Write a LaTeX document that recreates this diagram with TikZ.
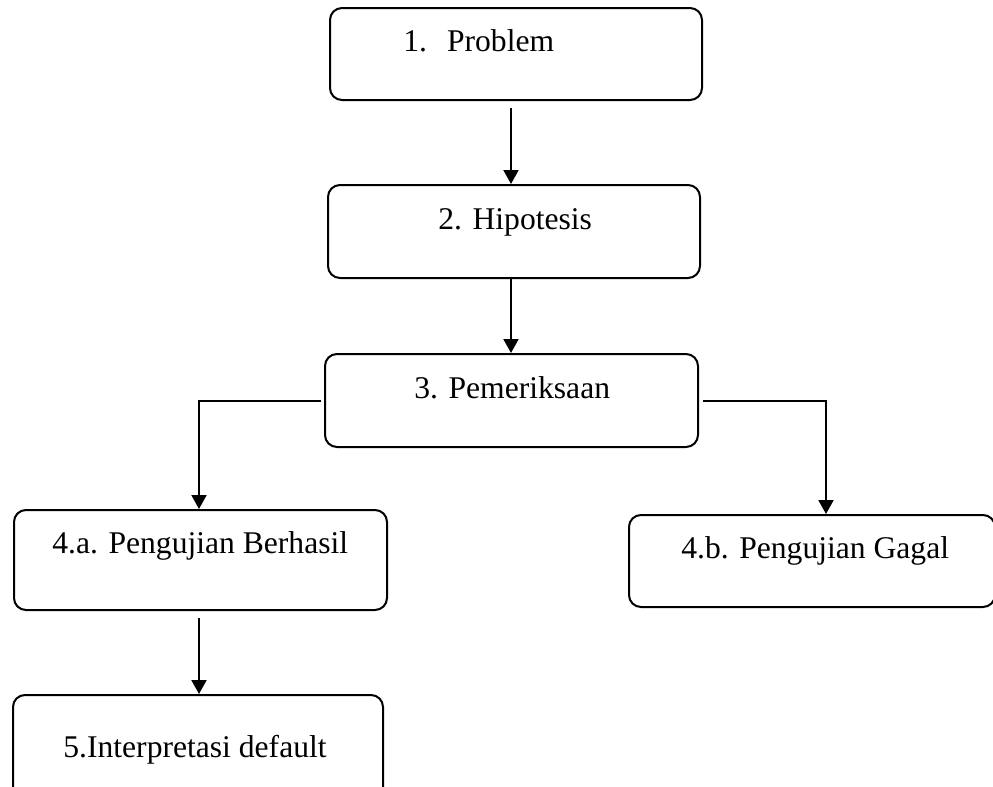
\documentclass[tikz,border=0pt]{standalone}
\usepackage{fontspec}
\setmainfont{Liberation Serif}
\usetikzlibrary{arrows.meta,positioning}

\begin{document}
\begin{tikzpicture}[x=0.5pt, y=-0.5pt,
    stepbox/.style={draw, line width=1pt, rounded corners=6pt, inner sep=0pt},
    steptext/.style={anchor=base west, inner sep=0pt, font=\fontsize{15.8}{18}\selectfont},
    arr/.style={-{Triangle[length=7pt,width=7.5pt]}, line width=1pt}]
  \useasboundingbox (0,0) rectangle (993,787);

  % boxes
  \node[stepbox, minimum width=186pt, minimum height=46pt]   (b1)  at (516,54)    {};
  \node[stepbox, minimum width=186pt, minimum height=46.5pt] (b2)  at (514,231.5) {};
  \node[stepbox, minimum width=186.5pt, minimum height=46.5pt] (b3)  at (511.5,400.5) {};
  \node[stepbox, minimum width=186.5pt, minimum height=50pt] (b4a) at (200.5,560) {};
  \node[stepbox, minimum width=183pt, minimum height=46pt]   (b4b) at (812,561)   {};
  \node[stepbox, minimum width=185pt, minimum height=52.5pt] (b5)  at (198,747.5) {};

  % texts
  \node[steptext] (t1)  at (403,52)  {1.\hspace{10pt}Problem};
  \node[steptext] (t2)  at (438,229) {2. Hipotesis};
  \node[steptext] (t3)  at (414,398) {3. Pemeriksaan};
  \node[steptext] (t4a) at (52,553)  {4.a. Pengujian Berhasil};
  \node[steptext] (t4b) at (681,558) {4.b. Pengujian Gagal};
  \node[steptext] (t5)  at (63,757)  {5.Interpretasi default};

  % arrows
  \draw[arr, shorten <=3.5pt] ([xshift=-2.5pt]b1.south) -- ([xshift=-2.5pt]b1.south |- b2.north);
  \draw[arr] ([xshift=-1.5pt]b2.south) -- ([xshift=-1.5pt]b2.south |- b3.north);
  \draw[arr, shorten <=1.5pt] (b3.west) -| ([xshift=-0.75pt]b4a.north);
  \draw[arr, shorten <=2pt] (b3.east) -| ([xshift=7pt]b4b.north);
  \draw[arr, shorten <=3.5pt] ([xshift=-0.75pt]b4a.south) -- ([xshift=-0.75pt]b4a.south |- b5.north);
\end{tikzpicture}
\end{document}
